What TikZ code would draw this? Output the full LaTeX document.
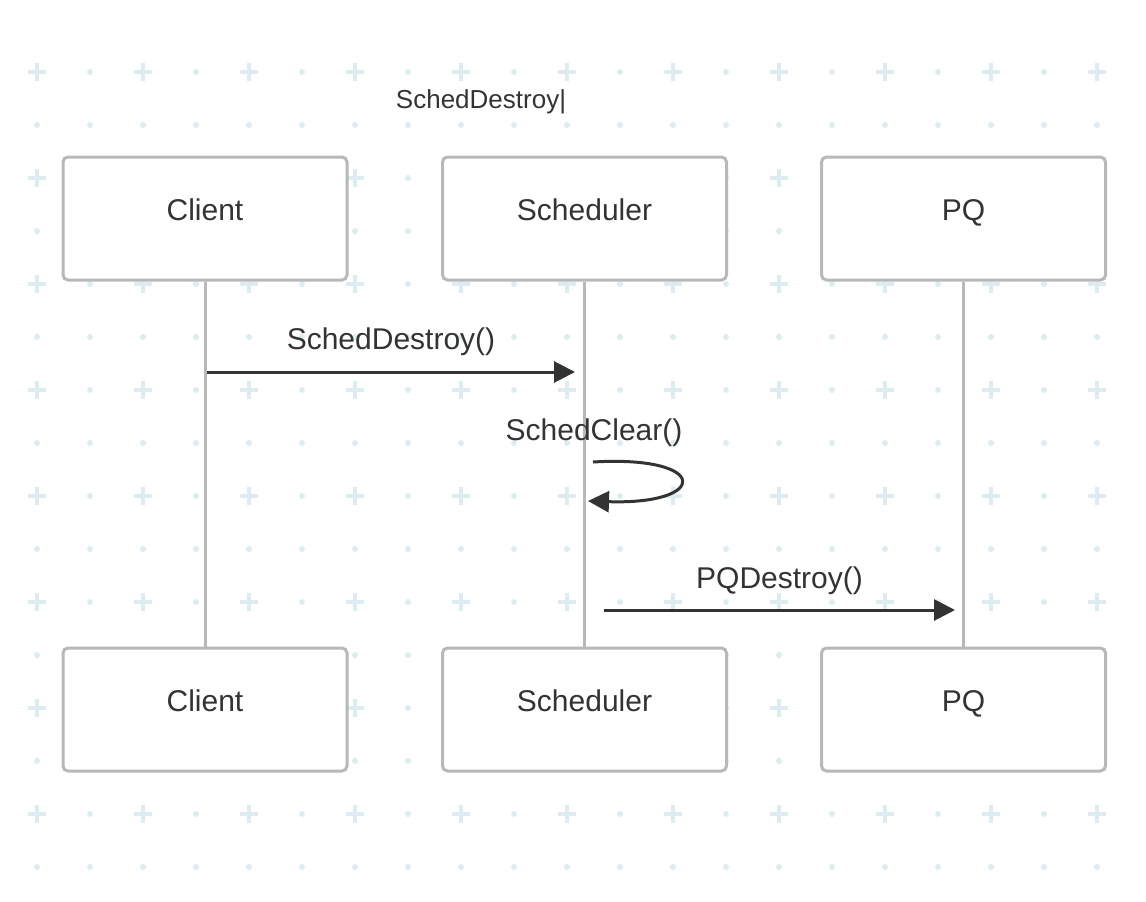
\documentclass[tikz,border=0pt]{standalone}
\usepackage{fontspec}
\setmainfont{Liberation Sans}
\usetikzlibrary{arrows.meta,positioning}
\definecolor{gridblue}{RGB}{221,236,241}
\definecolor{boxgray}{RGB}{184,184,184}
\definecolor{inkgray}{RGB}{51,51,51}
\tikzset{
    actor/.style={draw=boxgray, line width=3pt, fill=white, rounded corners=5pt,
        minimum width=284pt, minimum height=123pt, text=inkgray,
        font=\fontsize{30pt}{34pt}\selectfont, text height=22pt, text depth=18pt},
    life/.style={draw=boxgray, line width=3pt},
    msg/.style={draw=inkgray, line width=3pt, -{Triangle[length=21pt,width=21pt]}},
    msglabel/.style={text=inkgray, font=\fontsize{30pt}{34pt}\selectfont, anchor=base}
}

\begin{document}
\begin{tikzpicture}[x=1pt, y=-1pt]

\useasboundingbox (0,0) rectangle (1146,902);

% ------------------------------------------------------------
% Background grid
% ------------------------------------------------------------

\foreach \i in {0,...,15} {
  \foreach \j in {0,...,20} {
    \pgfmathsetmacro{\gx}{37+53*\j}
    \pgfmathsetmacro{\gy}{72+53*\i}
    \pgfmathtruncatemacro{\isplus}{(mod(\i,2)==0) && (mod(\j,2)==0)}
    \ifnum\isplus=1
      \draw[gridblue, line width=4pt] (\gx-9,\gy) -- (\gx+9,\gy) (\gx,\gy-9) -- (\gx,\gy+9);
    \else
      \fill[gridblue] (\gx,\gy) circle (3pt);
    \fi
  }
}

% Title
\node[text=inkgray, font=\fontsize{26pt}{30pt}\selectfont] (Title) at (481,102) {SchedDestroy|};

% ------------------------------------------------------------
% Participants
% ------------------------------------------------------------

\node[actor] (CliTop) at (205,218.5) {Client};
\node[actor] (SchTop) at (584.5,218.5) {Scheduler};
\node[actor] (PQTop)  at (963.5,218.5) {PQ};

\node[actor] (CliBot) at (205,709.5) {Client};
\node[actor] (SchBot) at (584.5,709.5) {Scheduler};
\node[actor] (PQBot)  at (963.5,709.5) {PQ};

% Lifelines
\draw[life] (CliTop.south) -- (CliBot.north);
\draw[life] (SchTop.south) -- (SchBot.north);
\draw[life] (PQTop.south) -- (PQBot.north);

% ------------------------------------------------------------
% Messages
% ------------------------------------------------------------

\coordinate (M1s) at (207,372);
\coordinate (M1e) at (575,372);
\coordinate (M2s) at (593,462);
\coordinate (M2e) at (588,501);
\coordinate (M3s) at (604,610);
\coordinate (M3e) at (955,610);

\draw[msg] (M1s) -- (M1e) node[msglabel, midway, yshift=23pt] (L1) {SchedDestroy()};
\draw[msg] (M2s) .. controls (710,455) and (710,505) .. (M2e);
\node[msglabel] (L2) at (594,440) {SchedClear()};
\draw[msg] (M3s) -- (M3e) node[msglabel, midway, yshift=22pt] (L3) {PQDestroy()};

\end{tikzpicture}
\end{document}
